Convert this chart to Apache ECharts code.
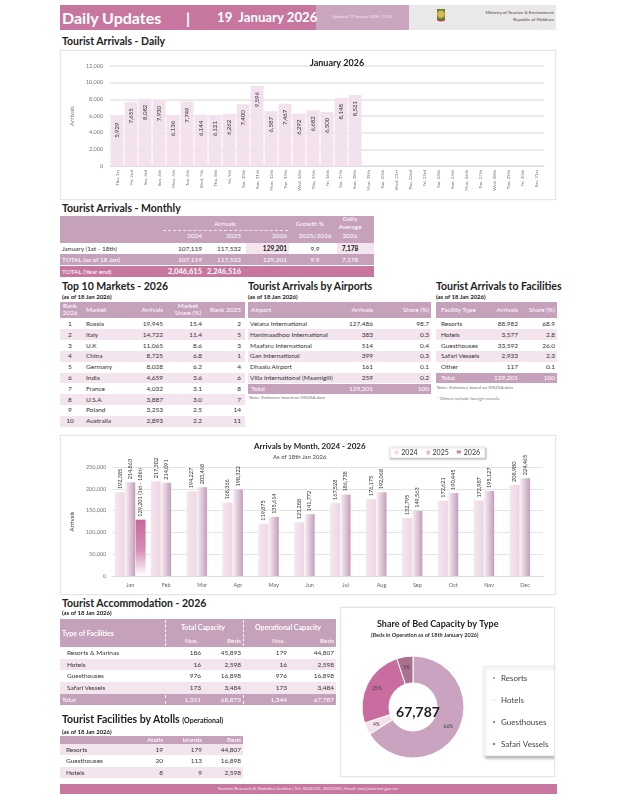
<!DOCTYPE html>
<html><head><meta charset="utf-8">
<script src="https://cdn.jsdelivr.net/npm/echarts@6/dist/echarts.min.js"></script>
<style>
body{margin:0;width:618px;height:800px;background:#fff;font-family:Lato,"Open Sans",sans-serif;position:relative;overflow:hidden}
.a{position:absolute;white-space:nowrap;box-sizing:border-box}
.box{position:absolute;border:1px solid #e6e6e6;box-shadow:0 0 2px rgba(0,0,0,0.08);box-sizing:border-box}
.t{position:absolute;font-weight:bold;font-size:10.5px;color:#222;white-space:nowrap}
.s{position:absolute;font-weight:bold;font-size:6px;color:#222;white-space:nowrap}
.n{position:absolute;font-size:4.5px;color:#777;white-space:nowrap}
</style></head><body>
<div class="box" id="daily" style="left:60px;top:50px;width:496px;height:150px"></div>
<div class="box" id="monthly" style="left:60px;top:435px;width:496px;height:160px"></div>
<div class="box" id="donut" style="left:340px;top:607px;width:215px;height:170px"></div>
<script>
// ---------- DATA ----------
const dailyLabels=["Thu, 1st","Fri, 2nd","Sat, 3rd","Sun, 4th","Mon, 5th","Tue, 6th","Wed, 7th","Thu, 8th","Fri, 9th","Sat, 10th","Sun, 11th","Mon, 12th","Tue, 13th","Wed, 14th","Thu, 15th","Fri, 16th","Sat, 17th","Sun, 18th","Mon, 19th","Tue, 20th","Wed, 21st","Thu, 22nd","Fri, 23rd","Sat, 24th","Sun, 25th","Mon, 26th","Tue, 27th","Wed, 28th","Thu, 29th","Fri, 30th","Sat, 31st"];
const dailyValues=[5929,7655,8082,7930,6136,7749,6144,6121,6262,7400,9596,6587,7467,6292,6682,6500,8148,8521,null,null,null,null,null,null,null,null,null,null,null,null,null];
const months=["Jan","Feb","Mar","Apr","May","Jun","Jul","Aug","Sep","Oct","Nov","Dec"];
const arr2024=[192385,217302,194227,168366,119875,123288,167528,176175,132795,172621,172987,208980];
const arr2025=[214863,214091,203468,198322,135614,141772,186738,192068,149563,190445,195127,224465];
const arr2026=[129201,null,null,null,null,null,null,null,null,null,null,null];
const monthlyRow=["January (1st - 18th)","107,119","117,532","129,201","9.9","7,178"];
const monthlyTotal=["TOTAL (as of 18 Jan)","107,119","117,532","129,201","9.9","7,178"];
const yearEnd=["TOTAL (Year end)","2,046,615","2,246,516"];
const mktRank=[1,2,3,4,5,6,7,8,9,10];
const mktName=["Russia","Italy","U.K","China","Germany","India","France","U.S.A","Poland","Australia"];
const mktArr=["19,945","14,722","11,065","8,725","8,028","4,659","4,032","3,887","3,253","2,893"];
const mktShare=["15.4","11.4","8.6","6.8","6.2","3.6","3.1","3.0","2.5","2.2"];
const mktRank25=[2,5,3,1,4,6,8,7,14,11];
const apName=["Velana International","Hanimaadhoo International","Maafaru International","Gan International","Dhaalu Airport","Villa International (Maamigili)"];
const apArr=["127,486","383","514","399","161","259"];
const apShare=["98.7","0.3","0.4","0.3","0.1","0.2"];
const apTotal=["Total","129,201","100"];
const facName=["Resorts","Hotels","Guesthouses","Safari Vessels","Other"];
const facArr=["88,982","3,577","33,592","2,933","117"];
const facShare=["68.9","2.8","26.0","2.3","0.1"];
const facTotal=["Total","129,201","100"];
const accName=["Resorts & Marinas","Hotels","Guesthouses","Safari Vessels"];
const accNos=["186","16","976","173"];
const accBeds=["45,893","2,598","16,898","3,484"];
const accOpNos=["179","16","976","173"];
const accOpBeds=["44,807","2,598","16,898","3,484"];
const accTotal=["Total","1,351","68,873","1,344","67,787"];
const atName=["Resorts","Guesthouses","Hotels"];
const atAtolls=["19","20","8"];
const atIslands=["179","113","9"];
const atBeds=["44,807","16,898","2,598"];
const bedTypes=["Resorts","Hotels","Guesthouses","Safari Vessels"];
const bedValues=[44807,2598,16898,3484];

// ---------- STYLE ----------
const PINK='#c7779f', MAUVE='#c6a1bb', LIGHT='#f4e4ee', FONT='Lato, "Open Sans", sans-serif';
const root=document.body;
function el(x,y,w,h,css,html){const d=document.createElement('div');d.className='a';d.style.cssText=`left:${x}px;top:${y}px;width:${w}px;height:${h}px;`+(css||'');if(html!==undefined)d.innerHTML=html;root.appendChild(d);return d;}
function tx(x,y,text,align,css){const w=200;let left=align==='r'?x-w:align==='c'?x-w/2:x;return el(left,y-6,w,12,`line-height:12px;text-align:${align==='r'?'right':align==='c'?'center':'left'};font-size:6.5px;color:#333;`+(css||''),text);}
function lbl(cls,x,y,html){const d=document.createElement('div');d.className=cls;d.style.left=x+'px';d.style.top=y+'px';d.innerHTML=html;root.appendChild(d);return d;}

// ---------- HEADER ----------
el(60,5,256,25,'background:'+PINK);
el(316,5,93,25,'background:#cba6c0');
el(409,5,147,25,'background:#ebe8ea');
const HD='font-weight:bold;color:#fff;line-height:25px;height:25px;top:5px;';
tx(62,17,'Daily Updates','l',HD+'font-size:16px');
tx(186,17,'|','l',HD+'font-size:16px');
tx(217,17,'19&nbsp; January 2026','l',HD+'font-size:13.2px');
tx(362,17,'Updated: 19 January 2026 | 11:05','c','font-size:4px;color:#f4e8f0');
el(437,9,8,15,'background:radial-gradient(circle at 50% 35%,#e2b94a 25%,#4f8a3a 45%,#c23b3b 65%,transparent 72%);');
tx(554,13,'Ministry of Tourism &amp; Environment','r','font-size:4.5px;color:#444');
tx(554,20,'Republic of Maldives','r','font-size:4.5px;color:#444');

lbl('t',62,35,'Tourist Arrivals - Daily');

// ---------- MONTHLY TABLE ----------
lbl('t',62,202,'Tourist Arrivals - Monthly');
el(60,216,314,27,'background:'+MAUVE);
const W='color:#fff;';
tx(225,224,'Arrivals','c',W);
el(163,230,125,0,'border-top:1px dashed #f3e6ee');
tx(310,224,'Growth %','c',W);
tx(350,219,'Daily','c',W);tx(350,227,'Average','c',W);
tx(202,236,'2024','r',W);tx(241,236,'2025','r',W);tx(287,236,'2026','r',W);
tx(315,236,'2025/2026','c',W);tx(350,236,'2026','c',W);
el(246,243,43,11,'background:'+LIGHT);el(337,243,37,11,'background:'+LIGHT);
tx(62,248.5,monthlyRow[0],'l');tx(202,248.5,monthlyRow[1],'r');tx(241,248.5,monthlyRow[2],'r');
tx(287,248.5,monthlyRow[3],'r','font-weight:bold;color:#111');tx(315,248.5,monthlyRow[4],'c');tx(350,248.5,monthlyRow[5],'c','font-weight:bold;color:#111');
el(60,254,314,11,'background:'+MAUVE);
tx(62,259.5,monthlyTotal[0],'l',W);tx(202,259.5,monthlyTotal[1],'r',W);tx(241,259.5,monthlyTotal[2],'r',W);
tx(287,259.5,monthlyTotal[3],'r',W);tx(315,259.5,monthlyTotal[4],'c',W);tx(350,259.5,monthlyTotal[5],'c',W);
el(60,266,314,11,'background:'+PINK);
el(60,265,314,0,'border-top:1px dashed #fff');
tx(62,271.5,yearEnd[0],'l',W);tx(202,271.5,yearEnd[1],'r',W+'font-weight:bold;font-size:7.5px');tx(241,271.5,yearEnd[2],'r',W+'font-weight:bold;font-size:7.5px');

// ---------- TOP 10 ----------
const RH=10.8, R0=324;
lbl('t',62,280,'Top 10 Markets - 2026');lbl('s',62,293,'(as of 18 Jan 2026)');
el(60,302,185,16,'background:'+MAUVE);
tx(70,306,'Rank','c',W);tx(70,313,'2026','c',W);tx(86,310,'Market','l',W);tx(163,310,'Arrivals','r',W);
tx(188,306,'Market','c',W);tx(188,313,'Share (%)','c',W);tx(241,310,'Rank 2025','r',W);
mktName.forEach((n,i)=>{const y=R0+i*RH;if(i%2)el(60,y-RH/2,185,RH,'background:'+LIGHT);
 tx(70,y,mktRank[i],'c');tx(86,y,n,'l');tx(163,y,mktArr[i],'r');tx(202,y,mktShare[i],'r');tx(241,y,mktRank25[i],'r');});

// ---------- AIRPORTS ----------
lbl('t',248,280,'Tourist Arrivals by Airports');lbl('s',248,293,'(as of 18 Jan 2026)');
el(248,302,183,16,'background:'+MAUVE);
tx(251,310,'Airport','l',W);tx(373,310,'Arrivals','r',W);tx(429,310,'Share (%)','r',W);
apName.forEach((n,i)=>{const y=R0+i*RH;if(i%2)el(248,y-RH/2,183,RH,'background:'+LIGHT);
 tx(250,y,n,'l');tx(373,y,apArr[i],'r');tx(429,y,apShare[i],'r');});
el(248,384,183,10,'background:'+MAUVE);
tx(251,389,apTotal[0],'l',W);tx(373,389,apTotal[1],'r',W);tx(429,389,apTotal[2],'r',W);
lbl('n',249,395,'Note: Estimates based on IMUGA data');

// ---------- FACILITIES ----------
lbl('t',436,280,'Tourist Arrivals to Facilities');lbl('s',436,293,'(as of 18 Jan 2026)');
el(436,302,121,16,'background:'+MAUVE);
tx(441,310,'Facility Type','l',W);tx(518,310,'Arrivals','r',W);tx(555,310,'Share (%)','r',W);
facName.forEach((n,i)=>{const y=R0+i*RH;if(i%2)el(436,y-RH/2,121,RH,'background:'+LIGHT);
 tx(441,y,n,'l');tx(518,y,facArr[i],'r');tx(555,y,facShare[i],'r');});
el(436,373,121,10,'background:'+MAUVE);
tx(441,378,facTotal[0],'l',W);tx(518,378,facTotal[1],'r',W);tx(555,378,facTotal[2],'r',W);
lbl('n',437,385,'Note: Estimates based on IMUGA data');
lbl('n',437,396,'* Others include foreign vessels');

// ---------- ACCOMMODATION ----------
lbl('t',62,597,'Tourist Accommodation - 2026');lbl('s',62,609,'(as of 18 Jan 2026)');
el(60,619,276,28,'background:'+MAUVE);
tx(62,633,'Type of Facilities','l',W+'font-weight:bold;font-size:7px');
tx(203,627,'Total Capacity','c',W+'font-weight:bold;font-size:7px');tx(288,627,'Operational Capacity','c',W+'font-weight:bold;font-size:7px');
tx(198,641,'Nos.','r',W);tx(241,641,'Beds','r',W);tx(285,641,'Nos.','r',W);tx(334,641,'Beds','r',W);
accName.forEach((n,i)=>{const y=653+i*11.6;if(i%2)el(60,y-5.8,276,11.6,'background:'+LIGHT);
 tx(67,y,n,'l');tx(201,y,accNos[i],'r');tx(241,y,accBeds[i],'r');tx(287,y,accOpNos[i],'r');tx(334,y,accOpBeds[i],'r');});
el(60,694,276,11,'background:'+MAUVE);
tx(62,699.5,accTotal[0],'l',W);tx(201,699.5,accTotal[1],'r',W);tx(241,699.5,accTotal[2],'r',W);tx(287,699.5,accTotal[3],'r',W);tx(334,699.5,accTotal[4],'r',W);
[165,243].forEach(x=>{el(x,620,0,26,'border-left:1px dashed #fff');el(x,695,0,9,'border-left:1px dashed #fff');});

// ---------- ATOLLS ----------
lbl('t',62,713,'Tourist Facilities by Atolls <span style="font-size:7px">(Operational)</span>');lbl('s',62,728,'(as of 18 Jan 2026)');
el(60,736,183,8,'background:'+MAUVE);
tx(163,740,'Atolls','r',W);tx(202,740,'Islands','r',W);tx(241,740,'Beds','r',W);
atName.forEach((n,i)=>{const y=749.5+i*11.6;if(i%2===0)el(60,y-5.8,183,11.6,'background:'+LIGHT);
 tx(66,y,n,'l');tx(163,y,atAtolls[i],'r');tx(202,y,atIslands[i],'r');tx(241,y,atBeds[i],'r');});

// ---------- FOOTER ----------
el(60,784,497,10,'background:'+PINK);
tx(308,789,'Tourism Research &amp; Statistics Section | Tel: 3022235, 3022250 | Email: stat@tourism.gov.mv','c','font-size:4.5px;color:#f7e9f1;width:400px;left:108px');

// ---------- CHARTS ----------
const fmt=v=>v==null?'':Number(v).toLocaleString('en-US');
const c1=echarts.init(document.getElementById('daily'));
c1.setOption({
 animation:false,textStyle:{fontFamily:FONT},
 title:{text:'January 2026',left:244,top:3,textStyle:{fontSize:9,fontWeight:'bold',color:'#222',fontFamily:FONT}},
 grid:{left:43,right:11,top:15,bottom:33},
 xAxis:{type:'category',data:dailyLabels,axisTick:{show:false},axisLine:{lineStyle:{color:'#ddd'}},
  axisLabel:{rotate:90,interval:0,fontSize:4.5,color:'#777',margin:4}},
 yAxis:{type:'value',min:0,max:12000,interval:2000,name:'Arrivals',nameLocation:'middle',nameGap:27,
  nameTextStyle:{fontSize:6,color:'#777'},axisLabel:{fontSize:5.5,color:'#777',formatter:fmt,margin:7},
  splitLine:{lineStyle:{color:'#e4e4e4',width:1.5}}},
 series:[{type:'bar',data:dailyValues,barCategoryGap:'8%',itemStyle:{color:'#f3e2ed'},
  label:{show:true,rotate:90,position:'insideTop',align:'right',verticalAlign:'middle',distance:6,fontSize:6,color:'#333',formatter:p=>fmt(p.value)}}]
});

const c2=echarts.init(document.getElementById('monthly'));
const lab=(extra)=>({show:true,rotate:90,position:'top',align:'left',verticalAlign:'middle',distance:3,fontSize:5.5,color:'#333',formatter:p=>p.value==null?'':fmt(p.value)+(extra||'')});
c2.setOption({
 animation:false,textStyle:{fontFamily:FONT},
 graphic:[
  {type:'text',left:193,top:6,style:{text:'Arrivals by Month, 2024 - 2026',fontSize:8,fontWeight:'bold',fill:'#222',fontFamily:FONT}},
  {type:'text',left:212,top:18,style:{text:'As of 18th Jan 2026',fontSize:6,fill:'#444',fontFamily:FONT}}
 ],
 legend:{right:70,top:11,itemWidth:4,itemHeight:4,itemGap:8,icon:'rect',padding:[2,5],backgroundColor:'#fff',borderColor:'#ddd',borderWidth:0.5,
  shadowColor:'rgba(0,0,0,0.3)',shadowBlur:2,shadowOffsetX:1,shadowOffsetY:1,textStyle:{fontSize:7,color:'#333',padding:[0,0,0,-2]}},
 grid:{left:46,right:12,top:31,bottom:18},
 xAxis:{type:'category',data:months,axisTick:{show:false},axisLine:{lineStyle:{color:'#ddd'}},axisLabel:{fontSize:5.5,color:'#666',margin:6}},
 yAxis:{type:'value',min:0,max:250000,interval:50000,name:'Arrivals',nameLocation:'middle',nameGap:30,
  nameTextStyle:{fontSize:6,color:'#333'},axisLabel:{fontSize:5.5,color:'#777',formatter:fmt,margin:6},
  splitLine:{lineStyle:{color:'#e4e4e4',width:1}}},
 series:[
  {name:'2024',type:'bar',data:arr2024,barWidth:10,barGap:'4%',
   itemStyle:{color:new echarts.graphic.LinearGradient(0,0,1,0,[{offset:0,color:'#f5e6ef'},{offset:1,color:'#eed6e4'}])},label:lab()},
  {name:'2025',type:'bar',data:arr2025,barWidth:10,
   itemStyle:{color:new echarts.graphic.LinearGradient(0,0,1,0,[{offset:0,color:'#f6eff4'},{offset:1,color:'#c69dba'}])},label:lab()},
  {name:'2026',type:'bar',data:arr2026,barWidth:10,
   itemStyle:{color:new echarts.graphic.LinearGradient(0,0,0,1,[{offset:0,color:'#c9669c'},{offset:0.55,color:'#d88fb6'},{offset:1,color:'#ffffff'}])},label:lab(' (1st - 18th)')}
 ]
});

const c3=echarts.init(document.getElementById('donut'));
const total=bedValues.reduce((a,b)=>a+b,0);
c3.setOption({
 animation:false,textStyle:{fontFamily:FONT},
 color:['#c9a3bf','#f4e3ed','#c96c9f','#a9708f'],
 graphic:[
  {type:'text',left:36,top:12,style:{text:'Share of Bed Capacity by Type',fontSize:9,fontWeight:'bold',fill:'#222',fontFamily:FONT}},
  {type:'text',left:30,top:24,style:{text:'(Beds in Operation as of 18th January 2026)',fontSize:5.5,fontWeight:'bold',fill:'#333',fontFamily:FONT}}
 ],
 title:{text:fmt(total),left:72,top:99,textAlign:'center',textVerticalAlign:'middle',textStyle:{fontSize:14,fontWeight:'bold',color:'#222',fontFamily:FONT}},
 legend:{orient:'vertical',left:142,top:58,itemWidth:4,itemHeight:4,itemGap:14,icon:'rect',padding:[8,8,8,8],
  backgroundColor:'#fff',borderColor:'#ddd',borderWidth:0.5,shadowColor:'rgba(0,0,0,0.35)',shadowBlur:3,shadowOffsetX:2,shadowOffsetY:2,
  textStyle:{fontSize:8,color:'#444'},data:bedTypes},
 series:[{type:'pie',radius:[24,51],center:[72,99],startAngle:90,clockwise:true,
  itemStyle:{borderColor:'#fff',borderWidth:1},
  label:{position:'inside',fontSize:5,color:'#444',formatter:p=>Math.round(p.percent)+'%'},labelLine:{show:false},
  data:bedTypes.map((n,i)=>({name:n,value:bedValues[i]}))}]
});
</script>
</body></html>
